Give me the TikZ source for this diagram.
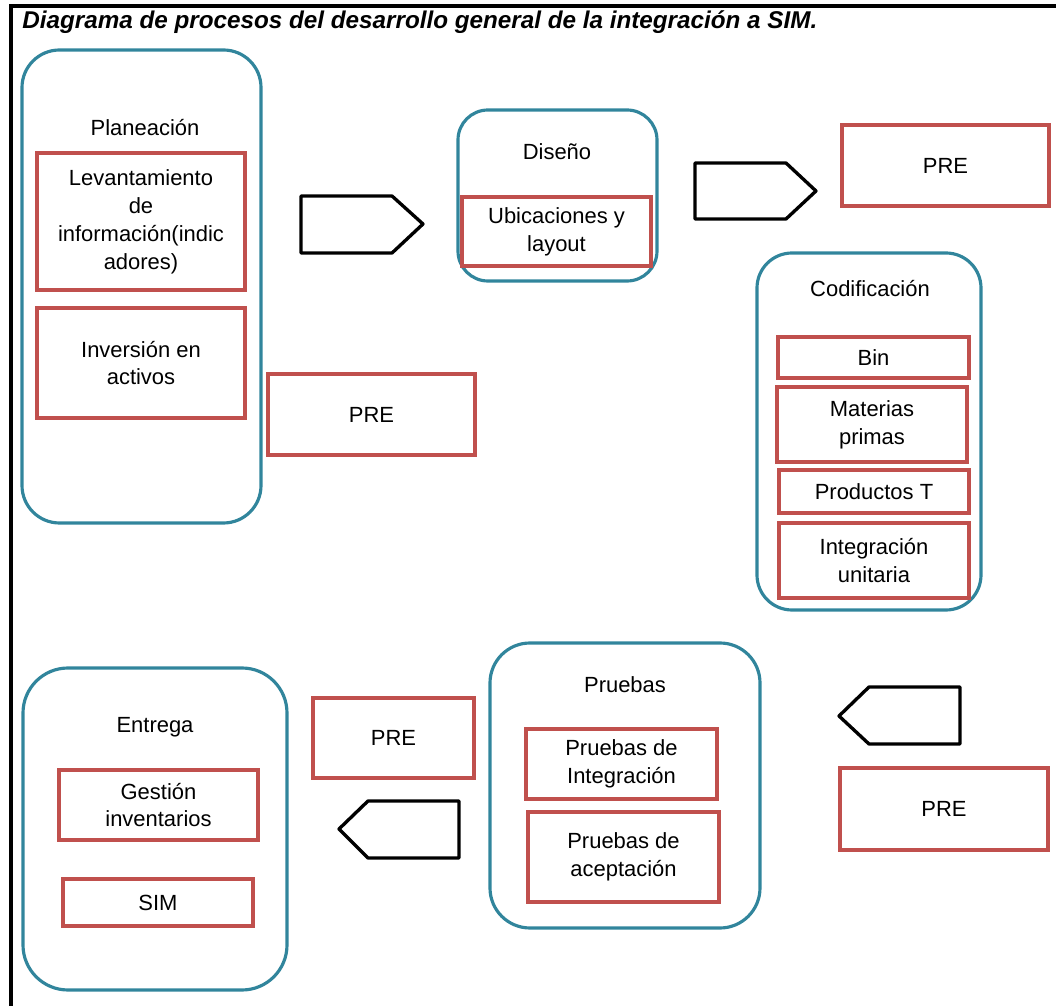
\documentclass[tikz,border=0pt]{standalone}
\usepackage{fontspec}
\setmainfont{Liberation Sans}
\usetikzlibrary{positioning}
\definecolor{etapa}{RGB}{49,133,156}
\definecolor{tarea}{RGB}{192,80,77}
\newcommand{\pxl}{0.02cm}

\begin{document}
\begin{tikzpicture}[x=0.02cm, y=-0.02cm,
		texto/.style={font={\fontsize{12.5}{15.9}\selectfont}, align=center},
		etapa/.style={draw=etapa, line width=1.8pt, inner sep=0pt},
		tarea/.style={draw=tarea, line width=2pt, inner sep=0pt, texto},
		flecha/.style={draw=black, line width=1.9pt, line join=round}]
		\useasboundingbox (0,0) rectangle (1056,1006);
		
		% draw frame
		\draw[line width=1.9pt] (1056,6) -- (11,6) -- (11,1006);
		\node[anchor=west, font={\fontsize{13.8}{16}\selectfont\bfseries\itshape}, inner sep=0pt] (titulo) at (22,22) {Diagrama de procesos del desarrollo general de la integración a SIM.};
		
		% draw stages
		\node[etapa, rounded corners=0.75cm, minimum width=239*\pxl, minimum height=473*\pxl] (plan) at (141.5,286.5) {};
		\node[etapa, rounded corners=0.6cm, minimum width=199*\pxl, minimum height=171*\pxl] (dis) at (557.5,195.5) {};
		\node[etapa, rounded corners=0.7cm, minimum width=224*\pxl, minimum height=357*\pxl] (cod) at (869,431.5) {};
		\node[etapa, rounded corners=0.8cm, minimum width=270*\pxl, minimum height=285*\pxl] (pru) at (625,785.5) {};
		\node[etapa, rounded corners=0.9cm, minimum width=264*\pxl, minimum height=322*\pxl] (ent) at (155,829) {};
		
		% stage titles
		\node[texto] (plantit) at (145,128) {Planeación};
		\node[texto] (distit) at (557,152) {Diseño};
		\node[texto] (codtit) at (870,289) {Codificación};
		\node[texto] (prutit) at (625,685) {Pruebas};
		\node[texto] (enttit) at (155,727) {Entrega};
		
		% draw tasks
		\node[tarea, minimum width=208*\pxl, minimum height=137*\pxl] (lev) at (141,221.5) {Levantamiento\\de\\información(indic\\adores)};
		\node[tarea, minimum width=208*\pxl, minimum height=110*\pxl] (inv) at (141,363) {Inversión en\\activos};
		\node[tarea, minimum width=189*\pxl, minimum height=69*\pxl] (ubi) at (556.5,231.5) {Ubicaciones y\\layout};
		\node[tarea, minimum width=191*\pxl, minimum height=41*\pxl] (bin) at (873.5,357.5) {Bin};
		\node[tarea, minimum width=190*\pxl, minimum height=75*\pxl] (mat) at (872,424.5) {Materias\\primas};
		\node[tarea, minimum width=190*\pxl, minimum height=43*\pxl] (prod) at (874,491.5) {Productos T};
		\node[tarea, minimum width=190*\pxl, minimum height=75*\pxl] (inte) at (874,560.5) {Integración\\unitaria};
		\node[tarea, minimum width=191*\pxl, minimum height=70*\pxl] (pint) at (621.5,764) {Pruebas de\\Integración};
		\node[tarea, minimum width=191*\pxl, minimum height=90*\pxl] (pace) at (623.5,857) {Pruebas de\\aceptación};
		\node[tarea, minimum width=199*\pxl, minimum height=70*\pxl] (ges) at (158.5,805) {Gestión\\inventarios};
		\node[tarea, minimum width=190*\pxl, minimum height=47*\pxl] (sim) at (158,902.5) {SIM};
		
		% draw PRE boxes
		\node[tarea, minimum width=207*\pxl, minimum height=81*\pxl] (pre1) at (945.5,165.5) {PRE};
		\node[tarea, minimum width=207*\pxl, minimum height=81*\pxl] (pre2) at (371.5,414.5) {PRE};
		\node[tarea, minimum width=161*\pxl, minimum height=80*\pxl] (pre3) at (393.5,738) {PRE};
		\node[tarea, minimum width=208*\pxl, minimum height=82*\pxl] (pre4) at (944,809) {PRE};
		
		% draw arrows
		\draw[flecha] (301,196) -- (392,196) -- (423,224) -- (392,253) -- (301,253) -- cycle;
		\draw[flecha] (695,163) -- (786,163) -- (816,191) -- (786,219) -- (695,219) -- cycle;
		\draw[flecha] (960,687) -- (869,687) -- (839,716) -- (869,744) -- (960,744) -- cycle;
		\draw[flecha] (459,801) -- (368,801) -- (339,829) -- (368,858) -- (459,858) -- cycle;
		
\end{tikzpicture}
\end{document}
